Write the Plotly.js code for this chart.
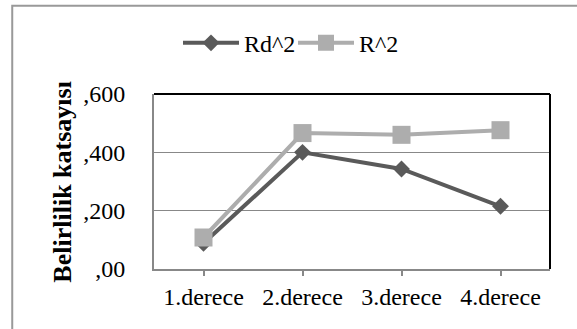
<!DOCTYPE html>
<html>
<head>
<meta charset="utf-8">
<script src="https://cdn.plot.ly/plotly-3.0.1.min.js"></script>
<style>html,body{margin:0;padding:0;background:#fff;}#chart{width:577px;height:329px;}</style>
</head>
<body>
<div id="chart"></div>
<script>
var categories = ["1.derece", "2.derece", "3.derece", "4.derece"];
var rd2 = [0.088, 0.400, 0.343, 0.215];
var r2 = [0.108, 0.466, 0.460, 0.476];
var yTickVals = [0, 0.2, 0.4, 0.6];
var yTickText = [",00", ",200", ",400", ",600"];
var yTitle = "Belirlilik katsayısı";

var FONT = "Liberation Serif";

var traces = [
  {x: categories, y: rd2, name: "Rd^2", type: "scatter", mode: "lines+markers",
   line: {color: "#5a5a5a", width: 4},
   marker: {symbol: "diamond", size: 13, color: "#5a5a5a"}},
  {x: categories, y: r2, name: "R^2", type: "scatter", mode: "lines+markers",
   line: {color: "#adadad", width: 4},
   marker: {symbol: "square", size: 18, color: "#adadad"}}
];

var layout = {
  width: 577, height: 329,
  margin: {l: 154, r: 27, t: 94, b: 60, pad: 0},
  paper_bgcolor: "#ffffff", plot_bgcolor: "rgba(0,0,0,0)",
  font: {family: FONT, size: 24, color: "#000"},
  showlegend: true,
  legend: {orientation: "h", x: (178 - 154) / 396, xanchor: "left", y: 1.29, yanchor: "middle",
           itemwidth: 56, entrywidth: 44, entrywidthmode: "pixels",
           font: {family: FONT, size: 24, color: "#000"}, bgcolor: "rgba(0,0,0,0)", traceorder: "normal"},
  xaxis: {type: "category", range: [-0.5, 3.5], showgrid: false, zeroline: false,
          showline: true, linecolor: "#888888", linewidth: 2,
          ticks: "outside", ticklen: 5, tickcolor: "#888888", tickwidth: 2,
          tickfont: {family: FONT, size: 24, color: "#000"}, fixedrange: true},
  yaxis: {range: [0, 0.6], tickvals: yTickVals, ticktext: yTickText,
          showgrid: true, gridcolor: "#888888", gridwidth: 1.5, zeroline: false,
          showline: true, linecolor: "#888888", linewidth: 2, ticks: "",
          ticklabelstandoff: 22,
          tickfont: {family: FONT, size: 24, color: "#000"}, fixedrange: true},
  annotations: [
    {text: "<b>" + yTitle + "</b>", xref: "paper", yref: "paper", x: -0.232, y: 0.5,
     textangle: -90, showarrow: false, xanchor: "center", yanchor: "middle",
     font: {family: FONT, size: 26, color: "#000"}}
  ],
  shapes: [
    {type: "line", xref: "paper", yref: "paper", x0: 0, x1: 1, y0: 1, y1: 1,
     line: {color: "#000", width: 2}, layer: "above"},
    {type: "line", xref: "paper", yref: "paper", x0: 1, x1: 1, y0: 0, y1: 1,
     line: {color: "#000", width: 2}, layer: "above"},
    {type: "rect", xref: "paper", yref: "paper", x0: -0.358, x1: 1.2, y0: -0.5, y1: 1.505,
     line: {color: "#999999", width: 2}, fillcolor: "rgba(0,0,0,0)", layer: "above"}
  ]
};

Plotly.newPlot("chart", traces, layout, {displayModeBar: false, staticPlot: true});
</script>
</body>
</html>
